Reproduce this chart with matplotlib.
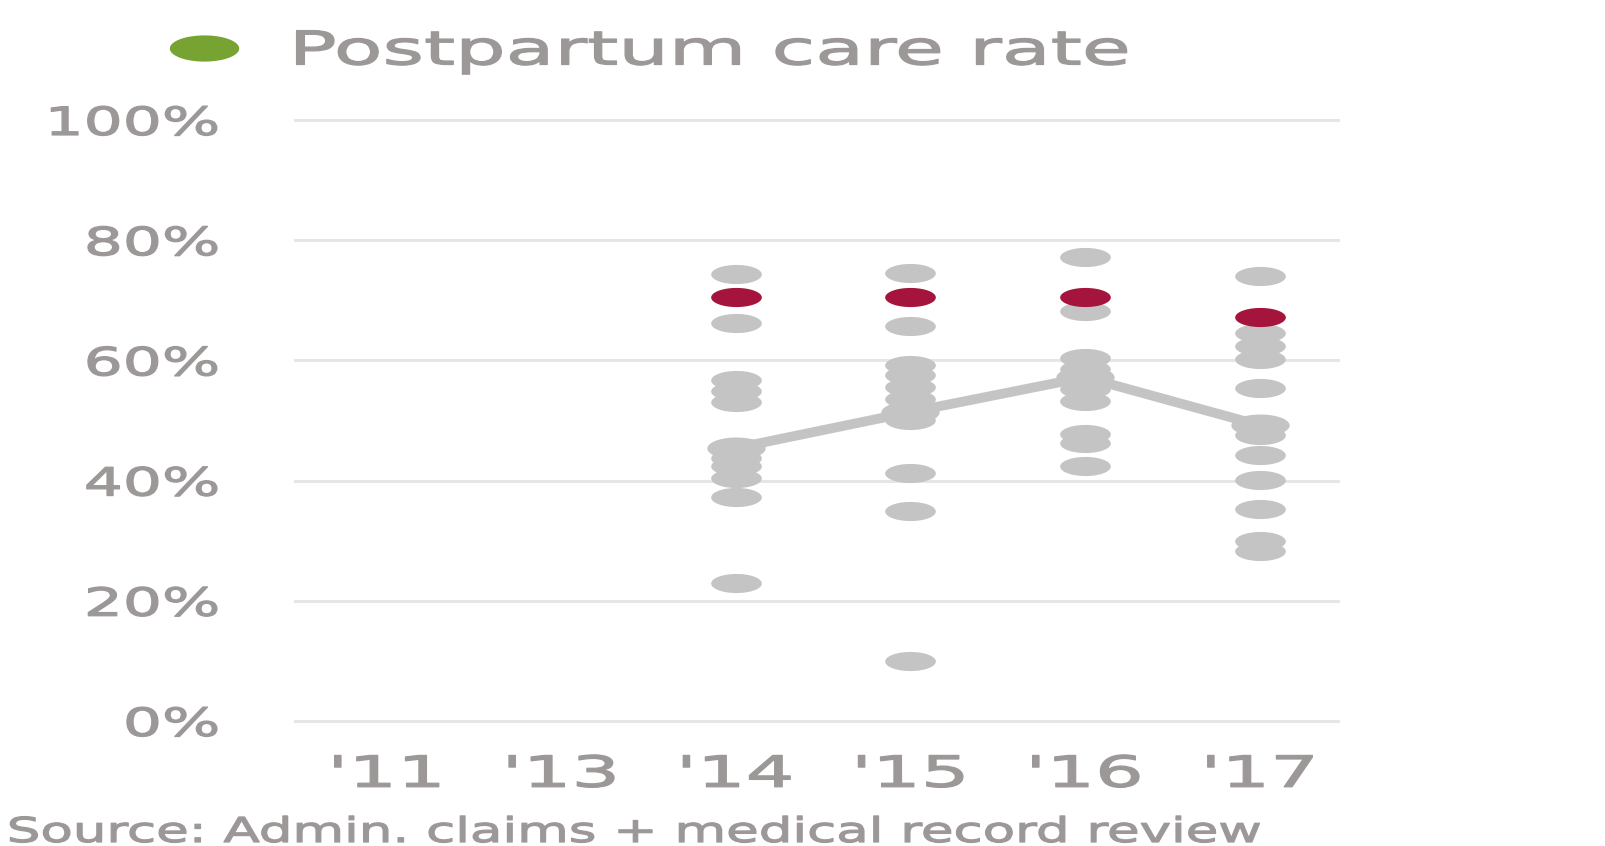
import matplotlib
matplotlib.use("Agg")
import matplotlib.pyplot as plt
import numpy as np
from matplotlib.path import Path
from matplotlib.patheffects import AbstractPathEffect
from matplotlib.transforms import Affine2D

# ── data ────────────────────────────────────────────────────
years = ["'11", "'13", "'14", "'15", "'16", "'17"]
yticks = [0, 20, 40, 60, 80, 100]
ytick_labels = ["0%", "20%", "40%", "60%", "80%", "100%"]

grey_14 = [74.4, 66.2, 56.7, 54.9, 53.0, 43.8, 42.4, 40.5, 37.3, 23.0]
grey_15 = [74.5, 65.8, 59.3, 57.6, 55.5, 53.5, 50.1, 41.3, 34.9, 10.0]
grey_16 = [77.2, 68.2, 60.4, 58.6, 55.2, 53.2, 47.8, 46.2, 42.4]
grey_17 = [74.0, 64.6, 62.4, 60.2, 55.4, 47.6, 44.3, 40.1, 35.3, 30.0, 28.2]
grey_years = ["'14", "'15", "'16", "'17"]
grey_values = [grey_14, grey_15, grey_16, grey_17]

median_values = [45.4, 51.4, 57.2, 49.2]
red_values = [70.5, 70.5, 70.6, 67.2]

legend_label = "Postpartum care rate"
source_text = "Source: Admin. claims + medical record review"

TEXT = "#9d9898"
GREY = "#c4c4c4"
RED = "#a5143d"
GREEN = "#76a331"
GRID = "#e6e6e6"


class Stretch(AbstractPathEffect):
    """Widen glyphs horizontally around a pivot, with a light outline
    to thicken strokes."""

    def __init__(self, sx, pivot="left", stroke=0.9):
        super().__init__()
        self.sx = sx
        self.pivot = pivot
        self.stroke = stroke

    def draw_path(self, renderer, gc, tpath, affine, rgbFace=None):
        bb = tpath.get_extents(affine)
        px = {"left": bb.x0, "center": 0.5 * (bb.x0 + bb.x1),
              "right": bb.x1}[self.pivot]
        aff = affine + Affine2D().translate(-px, 0).scale(self.sx, 1) \
            .translate(px, 0)
        gc0 = renderer.new_gc()
        gc0.copy_properties(gc)
        gc0.set_linewidth(self.stroke)
        gc0.set_foreground(rgbFace)
        gc0.set_joinstyle("round")
        renderer.draw_path(gc0, tpath, aff, rgbFace)
        gc0.restore()


# wide ellipse marker
t = np.linspace(0, 2 * np.pi, 60)
ellipse = Path(np.column_stack([2.65 * np.cos(t), np.sin(t)]), closed=True)

plt.rcParams["font.family"] = "DejaVu Sans"

fig = plt.figure(figsize=(16.06, 8.46), dpi=100)
ax = fig.add_axes([0.1831, 0.1336, 0.6513, 0.7388])

xpos = {y: i for i, y in enumerate(years)}

# grey dots
for yr, vals in zip(grey_years, grey_values):
    ax.plot([xpos[yr]] * len(vals), vals, linestyle="none",
            marker=ellipse, markersize=36.5, color=GREY,
            markeredgewidth=0, zorder=3, clip_on=False)

# median line with bigger dots
mx = [xpos[y] for y in grey_years]
ax.plot(mx, median_values, color=GREY, linewidth=7, zorder=3,
        solid_capstyle="round")
ax.plot(mx, median_values, linestyle="none", marker=ellipse,
        markersize=42, color=GREY, markeredgewidth=0, zorder=3)

# red dots
ax.plot(mx, red_values, linestyle="none", marker=ellipse,
        markersize=36.5, color=RED, markeredgewidth=0, zorder=4)

ax.set_xlim(-0.53, 5.46)
ax.set_ylim(-2, 102)
ax.set_xticks(range(len(years)))
ax.set_xticklabels(years)
ax.set_yticks(yticks)
ax.set_yticklabels(ytick_labels)
ax.yaxis.grid(True, color=GRID, linewidth=2.2)
ax.set_axisbelow(True)
for s in ax.spines.values():
    s.set_visible(False)
ax.tick_params(axis="both", length=0, colors=TEXT)
ax.tick_params(axis="y", pad=54, labelsize=28)
ax.tick_params(axis="x", pad=15, labelsize=31)
for lbl in ax.get_yticklabels():
    lbl.set_path_effects([Stretch(1.58, "right")])
for lbl in ax.get_xticklabels():
    lbl.set_path_effects([Stretch(1.78, "center")])

# legend
ax.plot([204 / 1606], [1 - 48 / 846], transform=fig.transFigure,
        marker=ellipse, markersize=50, color=GREEN, markeredgewidth=0,
        linestyle="none", clip_on=False)
fig.text(292 / 1606, 1 - 64.5 / 846, legend_label, fontsize=33.5,
         color=TEXT, ha="left", va="baseline",
         path_effects=[Stretch(1.71, "left")])

# source
fig.text(8 / 1606, 1 - 842 / 846, source_text, fontsize=24.7,
         color=TEXT, ha="left", va="baseline",
         path_effects=[Stretch(1.545, "left")])

fig.savefig("out.png", dpi=100)
